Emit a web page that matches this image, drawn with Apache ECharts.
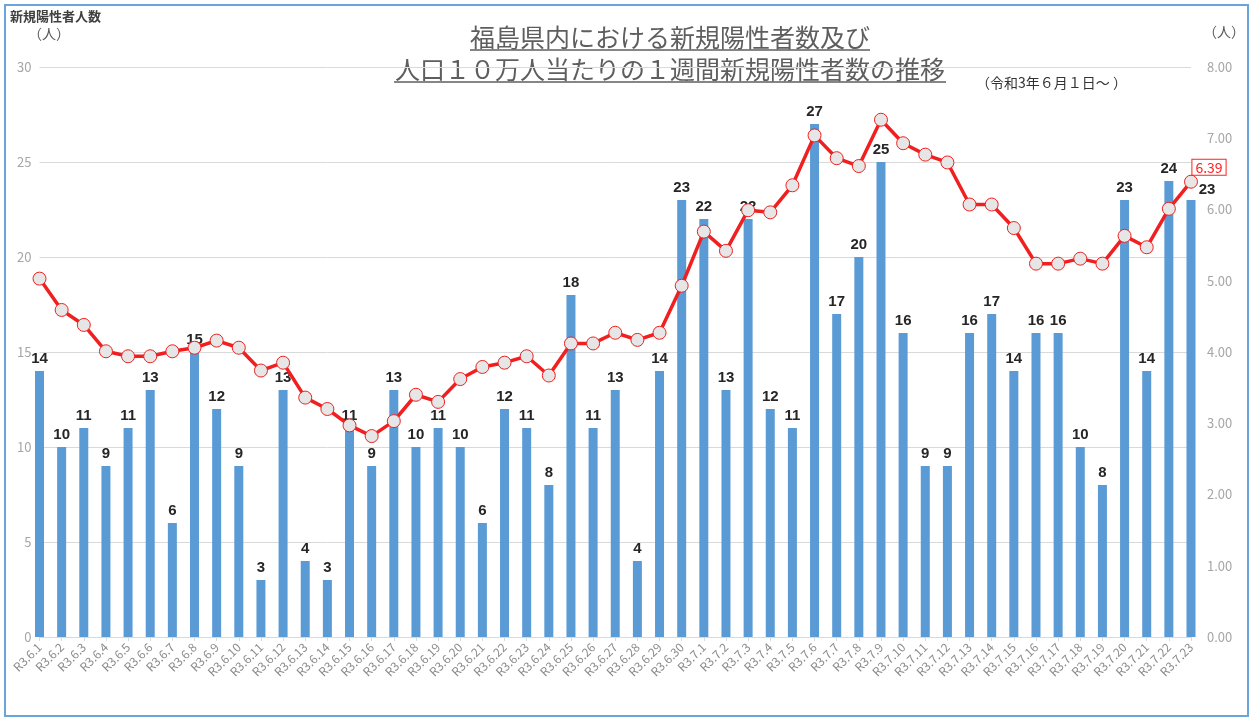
<!DOCTYPE html>
<html>
<head>
<meta charset="utf-8">
<script src="https://cdn.jsdelivr.net/npm/echarts@6/dist/echarts.min.js"></script>
<style>
* { margin: 0; padding: 0; }
body { background: #fff; }
#chart { width: 1250px; height: 718px; }
</style>
</head>
<body>
<div id="chart"></div>
<script>
// 日付ラベル
const dates = [
  'R3.6.1', 'R3.6.2', 'R3.6.3', 'R3.6.4', 'R3.6.5', 'R3.6.6', 'R3.6.7', 'R3.6.8', 'R3.6.9', 'R3.6.10',
  'R3.6.11', 'R3.6.12', 'R3.6.13', 'R3.6.14', 'R3.6.15', 'R3.6.16', 'R3.6.17', 'R3.6.18', 'R3.6.19', 'R3.6.20',
  'R3.6.21', 'R3.6.22', 'R3.6.23', 'R3.6.24', 'R3.6.25', 'R3.6.26', 'R3.6.27', 'R3.6.28', 'R3.6.29', 'R3.6.30',
  'R3.7.1', 'R3.7.2', 'R3.7.3', 'R3.7.4', 'R3.7.5', 'R3.7.6', 'R3.7.7', 'R3.7.8', 'R3.7.9', 'R3.7.10',
  'R3.7.11', 'R3.7.12', 'R3.7.13', 'R3.7.14', 'R3.7.15', 'R3.7.16', 'R3.7.17', 'R3.7.18', 'R3.7.19', 'R3.7.20',
  'R3.7.21', 'R3.7.22', 'R3.7.23'
]

// 新規陽性者数（人）
const newCases = [
  14, 10, 11, 9, 11, 13, 6, 15, 12, 9,
  3, 13, 4, 3, 11, 9, 13, 10, 11, 10,
  6, 12, 11, 8, 18, 11, 13, 4, 14, 23,
  22, 13, 22, 12, 11, 27, 17, 20, 25, 16,
  9, 9, 16, 17, 14, 16, 16, 10, 8, 23,
  14, 24, 23
]

// 人口10万人当たりの1週間新規陽性者数
const weeklyPer100k = [
  5.03, 4.59, 4.38, 4.01, 3.94, 3.94, 4.01, 4.06, 4.16, 4.06,
  3.74, 3.85, 3.36, 3.20, 2.97, 2.82, 3.03, 3.40, 3.30, 3.62,
  3.79, 3.85, 3.94, 3.67, 4.12, 4.12, 4.27, 4.17, 4.27, 4.93,
  5.69, 5.42, 5.99, 5.96, 6.34, 7.04, 6.72, 6.61, 7.26, 6.93,
  6.77, 6.66, 6.07, 6.07, 5.74, 5.24, 5.24, 5.31, 5.24, 5.63,
  5.47, 6.01, 6.39
]

const titleLines = ['福島県内における新規陽性者数及び', '人口１０万人当たりの１週間新規陽性者数の推移']
const subTitle = '（令和3年６月１日～ ）'

const jp = '"Noto Sans CJK JP", sans-serif'
const gray = '#8c8c8c'
const last = newCases.length - 1

const chart = echarts.init(document.getElementById('chart'))

const barData = newCases.map((v, i) => i === last
  ? { value: v, label: { offset: [16, 2] } }
  : v)
const lineData = weeklyPer100k.map((v, i) => i === last
  ? {
      value: v,
      label: {
        show: true, position: 'top', offset: [18, 5],
        formatter: (p) => p.value.toFixed(2),
        color: '#ff2020', fontSize: 14, fontFamily: jp,
        backgroundColor: '#fff', borderColor: '#ff2020', borderWidth: 1,
        padding: [1, 3, 0, 3]
      }
    }
  : v)

chart.setOption({
  backgroundColor: '#fff',
  animation: false,
  grid: { left: 39.5, right: 59, top: 67, bottom: 81 },
  graphic: [
    { type: 'rect', shape: { x: 5, y: 5, width: 1243, height: 711 },
      style: { fill: 'none', stroke: '#6aa5da', lineWidth: 2 } },
    { type: 'text', left: 10, top: 10,
      style: { text: '新規陽性者人数', font: 'bold 13px ' + jp, fill: '#404040' } },
    { type: 'text', left: 28, top: 27,
      style: { text: '（人）', font: '14px ' + jp, fill: '#595959' } },
    { type: 'text', left: 1203, top: 25,
      style: { text: '（人）', font: '14px ' + jp, fill: '#595959' } },
    { type: 'text', x: 670, y: 37,
      style: { text: titleLines[0], font: '25px ' + jp, fill: '#5e5e5e', align: 'center', verticalAlign: 'middle' } },
    { type: 'line', shape: { x1: 470, y1: 50, x2: 870, y2: 50 }, style: { stroke: '#5e5e5e', lineWidth: 1.5 } },
    { type: 'text', x: 670, y: 69,
      style: { text: titleLines[1], font: '25px ' + jp, fill: '#5e5e5e', align: 'center', verticalAlign: 'middle' } },
    { type: 'line', shape: { x1: 394, y1: 82, x2: 946, y2: 82 }, style: { stroke: '#5e5e5e', lineWidth: 1.5 } },
    { type: 'text', left: 976, top: 76,
      style: { text: subTitle, font: '14px ' + jp, fill: '#333' } }
  ],
  xAxis: {
    type: 'category',
    data: dates,
    boundaryGap: false,
    axisLine: { lineStyle: { color: '#d9d9d9' } },
    axisTick: { show: true, length: 4, lineStyle: { color: '#d9d9d9' } },
    axisLabel: { rotate: 45, interval: 0, color: gray, fontSize: 12, fontFamily: jp, margin: 8 }
  },
  yAxis: [
    {
      type: 'value', min: 0, max: 30, interval: 5,
      axisLine: { show: false }, axisTick: { show: false },
      axisLabel: { color: '#a6a6a6', fontSize: 13, fontFamily: jp, margin: 8 },
      splitLine: { lineStyle: { color: '#d9d9d9' } }
    },
    {
      type: 'value', min: 0, max: 8, interval: 1,
      axisLine: { show: false }, axisTick: { show: false },
      axisLabel: { color: '#a6a6a6', fontSize: 13, fontFamily: jp, margin: 16, formatter: (v) => v.toFixed(2) },
      splitLine: { show: false }
    }
  ],
  series: [
    {
      type: 'bar',
      data: barData,
      yAxisIndex: 0,
      barWidth: 9,
      itemStyle: { color: '#5b9bd5' },
      label: {
        show: true, position: 'top', distance: 5,
        color: '#262626', fontSize: 15, fontWeight: 'bold', fontFamily: '"Liberation Sans", Arial, sans-serif'
      },
      z: 2
    },
    {
      type: 'line',
      data: lineData,
      yAxisIndex: 1,
      symbol: 'circle',
      symbolSize: 13,
      lineStyle: { color: '#f02020', width: 3.5 },
      itemStyle: { color: '#e6e6e6', borderColor: '#f02020', borderWidth: 1 },
      z: 3
    }
  ]
})
</script>
</body>
</html>
